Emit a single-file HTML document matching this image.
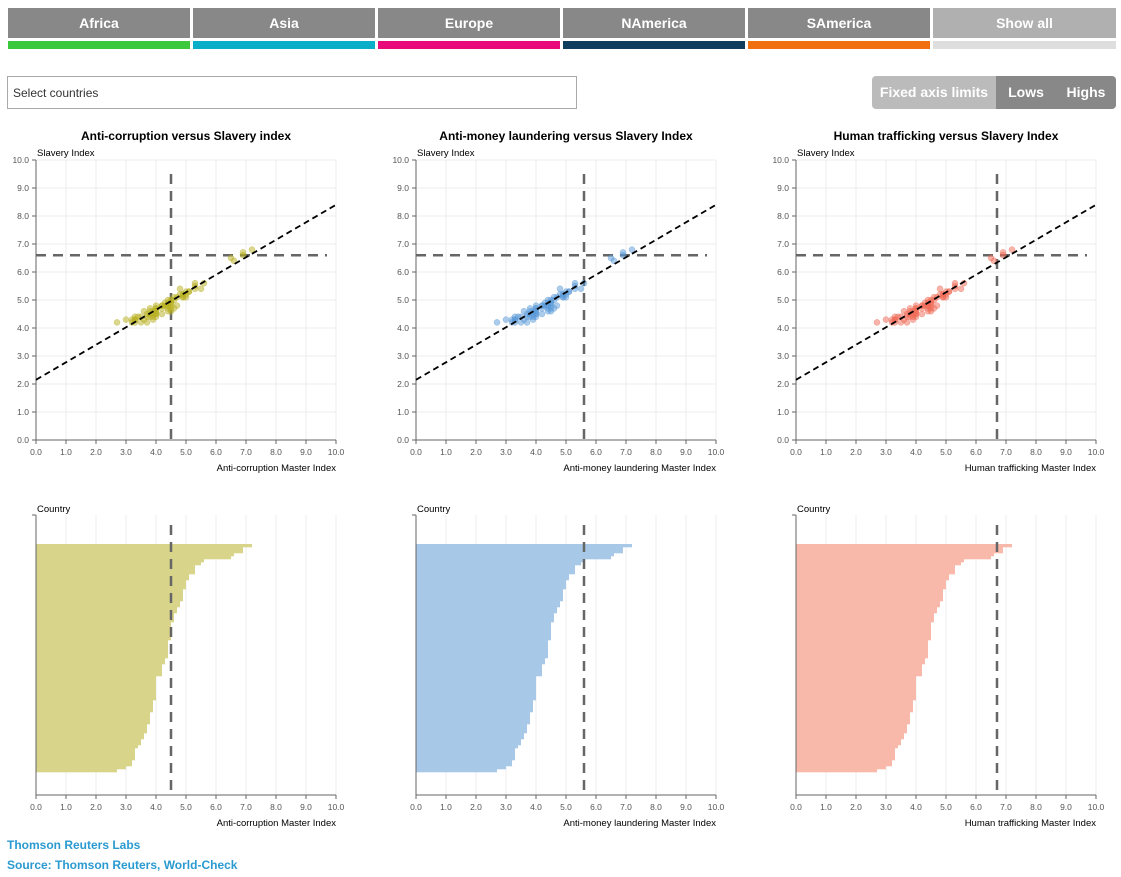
<!DOCTYPE html>
<html><head><meta charset="utf-8">
<style>
body{margin:0;background:#fff;font-family:"Liberation Sans",sans-serif;width:1121px;height:877px;overflow:hidden;position:relative}
.btn{position:absolute;top:8px;height:30px;background:#888;color:#fff;font-size:14px;line-height:30px;text-align:center;font-weight:bold}
.bar{position:absolute;top:41px;height:8px}
#sel{position:absolute;left:7px;top:76px;width:570px;height:33px;border:1px solid #aaa;box-sizing:border-box;font-size:12px;line-height:32px;padding-left:5px;color:#333}
#tog{position:absolute;left:872px;top:76px;width:244px;height:33px;border-radius:4px;overflow:hidden;font-size:14px;color:#fff;line-height:33px;font-weight:bold}
#tog div{position:absolute;top:0;height:33px;text-align:center}
.foot{position:absolute;left:7px;color:#2a9ad0;font-size:12px;font-weight:bold}
svg{position:absolute;left:0;top:0}
</style></head><body>
<div class="btn" style="left:8px;width:182px">Africa</div>
<div class="btn" style="left:193px;width:182px">Asia</div>
<div class="btn" style="left:378px;width:182px">Europe</div>
<div class="btn" style="left:563px;width:182px">NAmerica</div>
<div class="btn" style="left:748px;width:182px">SAmerica</div>
<div class="btn" style="left:933px;width:183px;background:#b0b0b0">Show all</div>
<div class="bar" style="left:8px;width:182px;background:#3cc83c"></div>
<div class="bar" style="left:193px;width:182px;background:#0aaec8"></div>
<div class="bar" style="left:378px;width:182px;background:#e8097a"></div>
<div class="bar" style="left:563px;width:182px;background:#0d3c5c"></div>
<div class="bar" style="left:748px;width:182px;background:#f07010"></div>
<div class="bar" style="left:933px;width:183px;background:#dedede"></div>
<div id="sel">Select countries</div>
<div id="tog">
<div style="left:0;width:124px;background:#bbb">Fixed axis limits</div>
<div style="left:124px;width:60px;background:#888">Lows</div>
<div style="left:184px;width:60px;background:#888">Highs</div>
</div>
<div class="foot" style="top:838px">Thomson Reuters Labs</div>
<div class="foot" style="top:858px">Source: Thomson Reuters, World-Check</div>
<svg id="svg" width="1121" height="877" xmlns="http://www.w3.org/2000/svg"></svg>
<script>
const xVals=[7.2,6.9,6.9,6.6,6.5,5.6,5.5,5.3,5.3,5.3,5.1,5.1,5.0,5.0,5.0,4.9,4.9,4.9,4.9,4.8,4.8,4.7,4.7,4.6,4.6,4.6,4.5,4.5,4.5,4.5,4.5,4.5,4.4,4.4,4.4,4.4,4.4,4.4,4.3,4.3,4.2,4.2,4.2,4.2,4.0,4.0,4.0,4.0,4.0,4.0,4.0,4.0,3.9,3.9,3.9,3.9,3.8,3.8,3.8,3.8,3.7,3.7,3.7,3.6,3.6,3.5,3.5,3.4,3.3,3.3,3.3,3.3,3.2,3.2,3.0,2.7];
const yVals=[6.8,6.7,6.6,6.4,6.5,5.6,5.4,5.6,5.5,5.4,5.3,5.3,5.1,5.3,5.2,5.2,5.1,5.2,5.1,5.4,5.2,5.1,4.8,5.1,4.7,5.0,5.0,4.9,4.8,4.7,4.6,4.9,5.0,4.9,4.8,4.7,4.8,4.6,4.9,4.8,4.5,4.8,4.7,4.8,4.8,4.7,4.6,4.5,4.7,4.6,4.5,4.4,4.3,4.5,4.6,4.4,4.7,4.5,4.6,4.4,4.2,4.5,4.4,4.6,4.3,4.2,4.4,4.4,4.2,4.4,4.3,4.3,4.3,4.2,4.3,4.2];
const xTicks=[0,1,2,3,4,5,6,7,8,9,10];
const yTicks=[0,1,2,3,4,5,6,7,8,9,10];
const trend=[[0,2.15],[10,8.4]];
const thresholdsX=[4.5,5.6,6.7];
const thresholdY=6.6;
const titles=["Anti-corruption versus Slavery index","Anti-money laundering versus Slavery Index","Human trafficking versus Slavery Index"];
const xTitles=["Anti-corruption Master Index","Anti-money laundering Master Index","Human trafficking Master Index"];
const dotColors=["#b8b020","#5a9ad8","#f06a55"];
const barColors=["#d8d48a","#a8c8e8","#f8b8aa"];
const svg=document.getElementById('svg');
const NS='http://www.w3.org/2000/svg';
function mk(tag,attrs,parent,text){const e=document.createElementNS(NS,tag);for(const k in attrs)e.setAttribute(k,attrs[k]);if(text!==undefined)e.textContent=text;(parent||svg).appendChild(e);return e;}
for(let p=0;p<3;p++){
  const ox=36+p*380;
  const sx=v=>ox+v*30;
  const sy=v=>440-v*28;
  const g=mk('g',{});
  
  
  const t=mk('text',{x:ox+150,y:140,'text-anchor':'middle','font-size':12,'font-weight':'bold',fill:'#000'},g,titles[p]);
  
  const yl=mk('text',{x:ox+1,y:156,'font-size':9.5,fill:'#000'},g,'Slavery Index');
  
  xTicks.forEach(v=>{
    const l=mk('line',{x1:sx(v),x2:sx(v),y1:160,y2:440,stroke:'#ececec'},g);
    
    mk('line',{x1:sx(v),x2:sx(v),y1:440,y2:444,stroke:'#666'},g);
    const tl=mk('text',{x:sx(v),y:455,'text-anchor':'middle','font-size':8.5,fill:'#555'},g,v.toFixed(1));
    
  });
  yTicks.forEach(v=>{
    const l=mk('line',{x1:ox,x2:ox+300,y1:sy(v),y2:sy(v),stroke:'#ececec'},g);
    
    mk('line',{x1:ox-4,x2:ox,y1:sy(v),y2:sy(v),stroke:'#666'},g);
    const tl=mk('text',{x:ox-7,y:sy(v)+3,'text-anchor':'end','font-size':8.5,fill:'#555'},g,v.toFixed(1));
    
  });
  mk('line',{x1:ox,x2:ox,y1:160,y2:440,stroke:'#666'},g);
  mk('line',{x1:ox,x2:ox+300,y1:440,y2:440,stroke:'#666'},g);
  const xt=mk('text',{x:ox+300,y:471,'text-anchor':'end','font-size':9.5,fill:'#000'},g,xTitles[p]);
  
  const hl=mk('line',{x1:sx(0),x2:sx(9.7),y1:sy(thresholdY),y2:sy(thresholdY),stroke:'#666','stroke-width':2.5,'stroke-dasharray':'10,7'},g);
  
  const vl=mk('line',{x1:sx(thresholdsX[p]),x2:sx(thresholdsX[p]),y1:sy(9.5),y2:sy(0),stroke:'#666','stroke-width':2.5,'stroke-dasharray':'10,7'},g);
  
  xVals.forEach((v,i)=>{
    const c=mk('circle',{cx:sx(v),cy:sy(yVals[i]),r:3,fill:dotColors[p],'fill-opacity':0.5,stroke:dotColors[p],'stroke-opacity':0.6,'stroke-width':0.5},g);
    
  });
  const tr=mk('line',{x1:sx(trend[0][0]),y1:sy(trend[0][1]),x2:sx(trend[1][0]),y2:sy(trend[1][1]),stroke:'#000','stroke-width':1.8,'stroke-dasharray':'6,4'},g);
  

  const b=mk('g',{});
  
  
  const cl=mk('text',{x:ox+1,y:512,'font-size':9.5,fill:'#000'},b,'Country');
  
  xTicks.forEach(v=>{
    const l=mk('line',{x1:sx(v),x2:sx(v),y1:515,y2:795,stroke:'#ececec'},b);
    
    mk('line',{x1:sx(v),x2:sx(v),y1:795,y2:799,stroke:'#666'},b);
    const tl=mk('text',{x:sx(v),y:810,'text-anchor':'middle','font-size':8.5,fill:'#555'},b,v.toFixed(1));
    
  });
  const sorted=xVals.slice().sort((a,c)=>c-a);
  const step=228/sorted.length;
  sorted.forEach((v,i)=>{
    const r=mk('rect',{x:ox,y:544+i*step,width:v*30,height:step+0.3,fill:barColors[p]},b);
    
  });
  mk('line',{x1:ox,x2:ox,y1:515,y2:795,stroke:'#666'},b);
  mk('line',{x1:ox-4,x2:ox,y1:515,y2:515,stroke:'#666'},b);
  mk('line',{x1:ox,x2:ox+300,y1:795,y2:795,stroke:'#666'},b);
  const bv=mk('line',{x1:sx(thresholdsX[p]),x2:sx(thresholdsX[p]),y1:525,y2:795,stroke:'#666','stroke-width':2.5,'stroke-dasharray':'10,7'},b);
  
  const bt=mk('text',{x:ox+300,y:826,'text-anchor':'end','font-size':9.5,fill:'#000'},b,xTitles[p]);
  
}
</script>
</body></html>
